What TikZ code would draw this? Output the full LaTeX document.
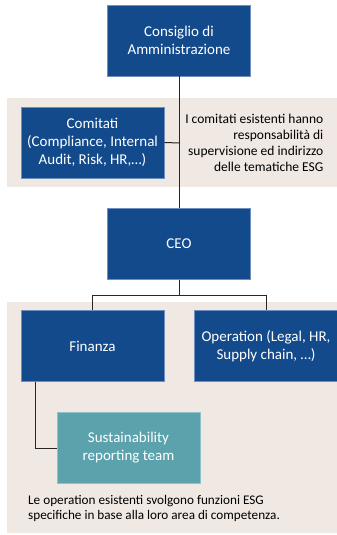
\documentclass[tikz,border=0pt]{standalone}
\usepackage{fontspec}
\setmainfont{Carlito}
\definecolor{dblue}{HTML}{134A8C}
\definecolor{bordblue}{HTML}{6F8FC0}
\definecolor{teal}{HTML}{5BA2AD}
\definecolor{tealb}{HTML}{8FC3CB}
\definecolor{beige}{HTML}{EFE8E3}
\begin{document}
\begin{tikzpicture}[x=1pt,y=-1pt,
  box/.style={rectangle, fill=dblue, draw=bordblue, line width=0.6pt, text=white, align=center,
    minimum width=143pt, minimum height=71pt, inner sep=1pt,
    font=\fontsize{15}{18}\selectfont},
  tbox/.style={box, fill=teal, draw=tealb},
  conn/.style={draw=black!85, line width=1pt},
  band/.style={fill=beige}]
\useasboundingbox (0,0) rectangle (337,535);
\fill[band] (7,98) rectangle (337,187);
\fill[band] (7,302) rectangle (337,533);
\node[box] (cda) at (179,40.5) {Consiglio di\\Amministrazione};
\node[box] (com) at (92.5,142.5) {Comitati\\(Compliance, Internal\\Audit, Risk, HR,…)};
\node[box] (ceo) at (179,244) {CEO};
\node[box] (fin) at (92.5,346) {Finanza};
\node[box] (op) at (266,346) {Operation (Legal, HR,\\Supply chain, …)};
\node[tbox] (sust) at (128.5,448) {Sustainability\\reporting team};
\coordinate (j1) at (180,143);
\draw[conn] (cda.south) -- (ceo.north);
\draw[conn] (com.east) -- (j1);
\draw[conn] (ceo.south) -- ++(0,16) -| (fin.north);
\draw[conn] (ceo.south) -- ++(0,16) -| (op.north);
\draw[conn] ([xshift=-57.5pt]fin.south) |- (sust.west);
\node[align=right, anchor=east, inner sep=0pt, font=\fontsize{13.5}{16.2}\selectfont] (note1) at (323.5,143) {I comitati esistenti hanno\\responsabilità di\\supervisione ed indirizzo\\delle tematiche ESG};
\node[align=left, anchor=west, inner sep=0pt, font=\fontsize{13.2}{15}\selectfont] (note2) at (28,508) {Le operation esistenti svolgono funzioni ESG\\specifiche in base alla loro area di competenza.};
\end{tikzpicture}
\end{document}
